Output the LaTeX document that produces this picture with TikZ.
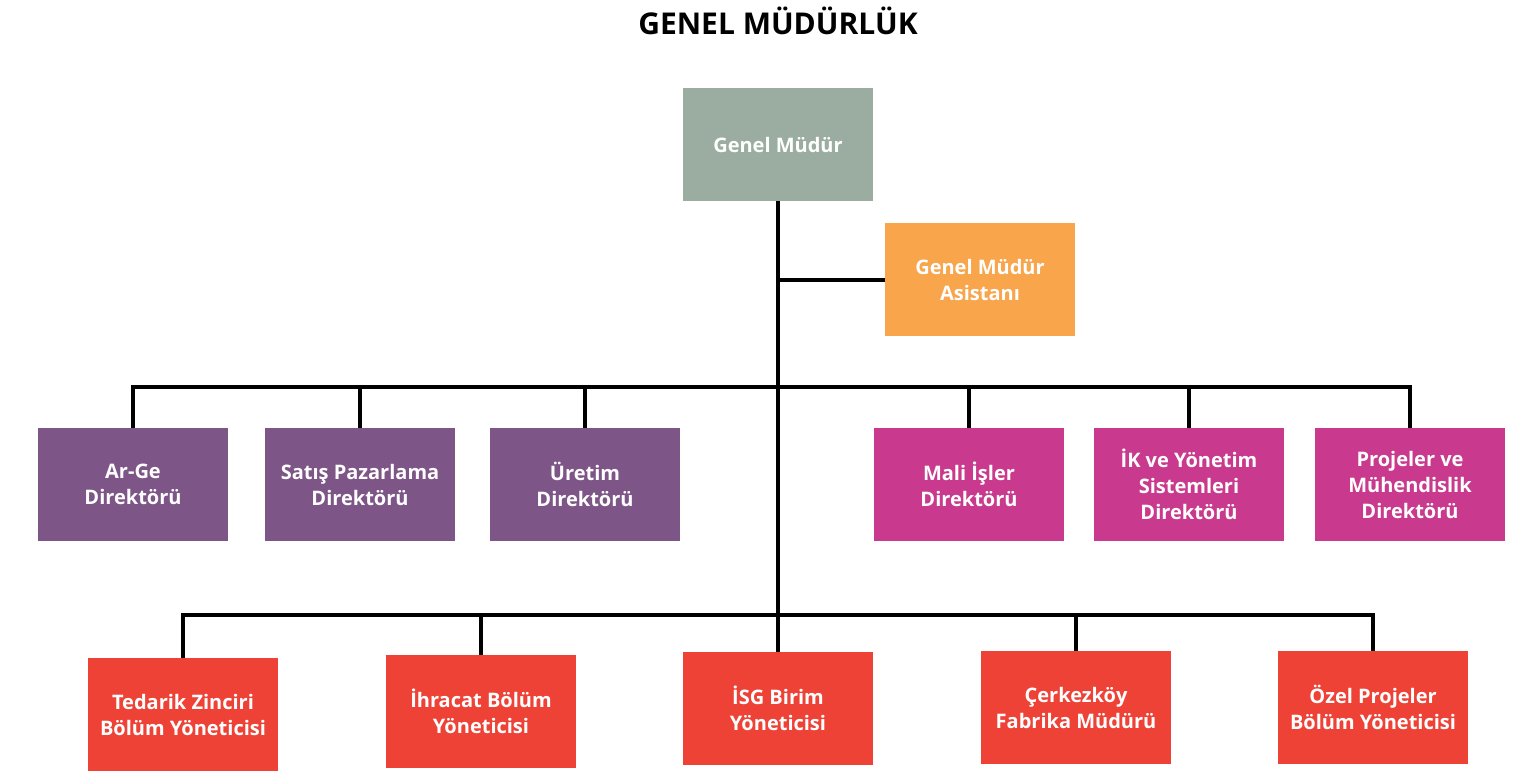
\documentclass[tikz,border=0pt]{standalone}
\usepackage{fontspec}
\setmainfont{Open Sans}
\definecolor{gmgray}{HTML}{9AADA0}
\definecolor{asorange}{HTML}{F8A54C}
\definecolor{dpurple}{HTML}{7D5687}
\definecolor{dmagenta}{HTML}{C93A8E}
\definecolor{ured}{HTML}{EE4237}
\tikzset{
  box/.style={rectangle, minimum width=95pt, minimum height=56.5pt, inner sep=0pt,
    text=white, align=center, font=\bfseries\fontsize{10}{13}\selectfont},
  conn/.style={line width=2pt, black, line join=miter}
}
\begin{document}
\begin{tikzpicture}[x=0.5pt,y=-0.5pt]
\useasboundingbox (0,0) rectangle (1539,772);
\node[font=\bfseries\fontsize{15}{18}\selectfont] (title) at (778,21) {GENEL MÜDÜRLÜK};
\node[box, fill=gmgray] (gm) at (778,144.5) {Genel Müdür};
\node[box, fill=asorange] (asst) at (980,279.5) {Genel Müdür\\Asistanı};
\node[box, fill=dpurple] (arge) at (133,484.5) {Ar-Ge\\Direktörü};
\node[box, fill=dpurple] (satis) at (360,484.5) {Satış Pazarlama\\Direktörü};
\node[box, fill=dpurple] (uretim) at (585,484.5) {Üretim\\Direktörü};
\node[box, fill=dmagenta] (mali) at (969,484.5) {Mali İşler\\Direktörü};
\node[box, fill=dmagenta] (ik) at (1189,484.5) {İK ve Yönetim\\Sistemleri\\Direktörü};
\node[box, fill=dmagenta] (proj) at (1410,484.5) {Projeler ve\\Mühendislik\\Direktörü};
\node[box, fill=ured] (tedarik) at (183,714.5) {Tedarik Zinciri\\Bölüm Yöneticisi};
\node[box, fill=ured] (ihracat) at (481,711.5) {İhracat Bölüm\\Yöneticisi};
\node[box, fill=ured] (isg) at (778,708.5) {İSG Birim\\Yöneticisi};
\node[box, fill=ured] (cerkez) at (1076,707.5) {Çerkezköy\\Fabrika Müdürü};
\node[box, fill=ured] (ozel) at (1373,707.5) {Özel Projeler\\Bölüm Yöneticisi};
\coordinate (bus2) at (778,387);
\coordinate (bus3) at (778,615);
% trunk
\draw[conn] (gm.south) -- (isg.north);
\draw[conn] (gm.south |- asst.west) -- (asst.west);
% row 2 bus
\draw[conn] (arge.north) -- (arge.north |- bus2) -- (proj.north |- bus2) -- (proj.north);
\foreach \n in {satis,uretim,mali,ik}
  \draw[conn] (\n.north) -- (\n.north |- bus2);
% row 3 bus
\draw[conn] (tedarik.north) -- (tedarik.north |- bus3) -- (ozel.north |- bus3) -- (ozel.north);
\foreach \n in {ihracat,cerkez}
  \draw[conn] (\n.north) -- (\n.north |- bus3);
\end{tikzpicture}
\end{document}
